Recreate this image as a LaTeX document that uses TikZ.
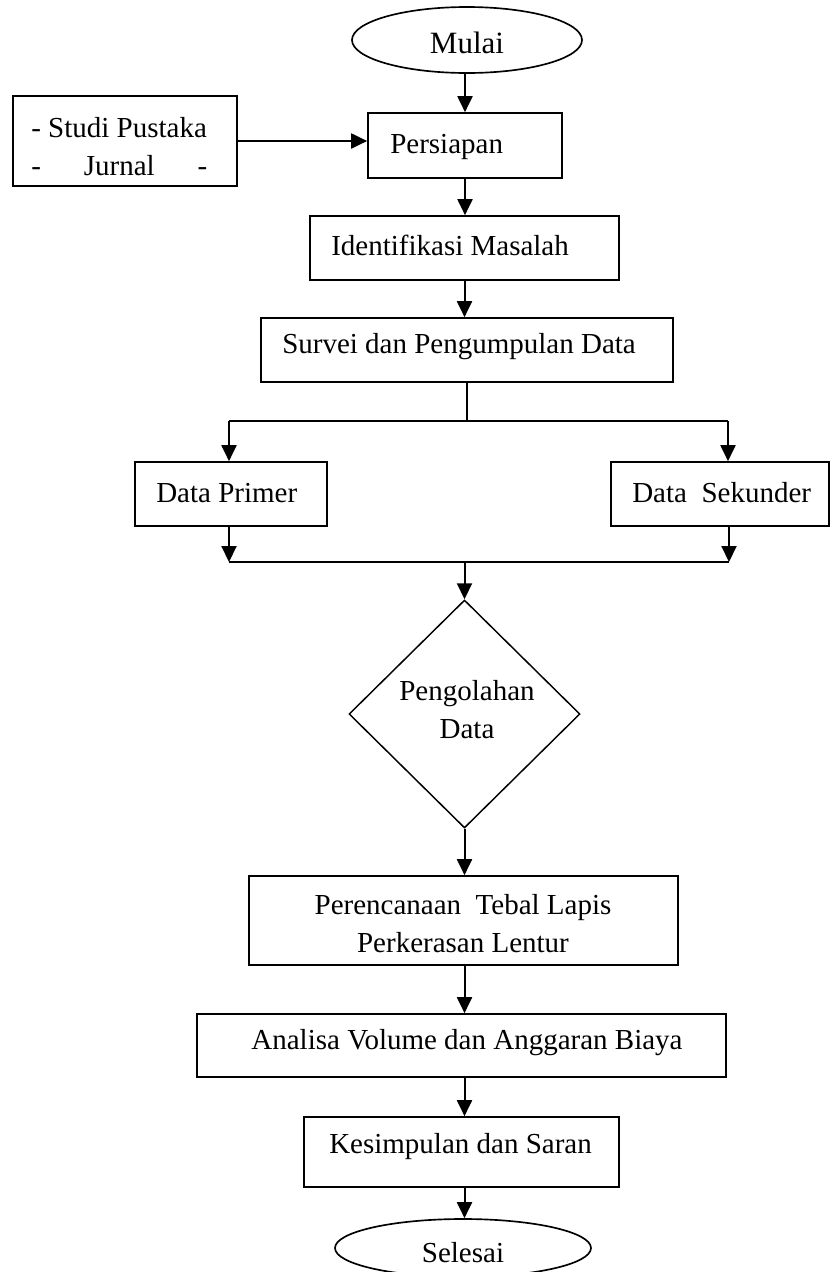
\documentclass[tikz,border=0pt]{standalone}
\usepackage{fontspec}
\setmainfont{Liberation Serif}
\usetikzlibrary{shapes.geometric,arrows.meta}
\begin{document}
\begin{tikzpicture}[x=0.75pt,y=-0.75pt,
  every node/.style={font=\fontsize{21.75}{28.5}\selectfont, inner sep=0pt},
  box/.style={draw, line width=1.25pt, rectangle},
  oval/.style={draw, line width=1.25pt, ellipse},
  decision/.style={draw, line width=1.1pt, diamond},
  conn/.style={line width=1.5pt, -{Triangle[width=11.25pt,length=12pt]}},
  plain/.style={line width=1.5pt},
  lbl/.style={anchor=west},
  clbl/.style={anchor=center, align=center}
]
\useasboundingbox (0,0) rectangle (830,1272);
\clip (0,0) rectangle (830,1272);
\fill[white] (0,0) rectangle (830,1272);

% shapes
\node[oval, minimum width=230*0.75pt, minimum height=66*0.75pt] (mulai) at (467,40) {};
\node[box, minimum width=224*0.75pt, minimum height=90*0.75pt] (studi) at (125,141) {};
\node[box, minimum width=194*0.75pt, minimum height=65*0.75pt] (persiapan) at (465,145.5) {};
\node[box, minimum width=309*0.75pt, minimum height=64*0.75pt] (ident) at (464.5,248) {};
\node[box, minimum width=412*0.75pt, minimum height=64*0.75pt] (survei) at (467,350) {};
\node[box, minimum width=192*0.75pt, minimum height=64*0.75pt] (primer) at (231,494) {};
\node[box, minimum width=218*0.75pt, minimum height=64*0.75pt] (sekunder) at (720,494) {};
\node[decision, minimum width=231*0.75pt, minimum height=228*0.75pt] (olah) at (464.5,714) {};
\node[box, minimum width=429*0.75pt, minimum height=89*0.75pt] (rencana) at (463.5,920.5) {};
\node[box, minimum width=529*0.75pt, minimum height=63*0.75pt] (analisa) at (461.5,1045.5) {};
\node[box, minimum width=315*0.75pt, minimum height=70*0.75pt] (simpul) at (461.5,1152) {};
\node[oval, minimum width=256*0.75pt, minimum height=58*0.75pt] (selesai) at (463,1248) {};

% texts
\node[clbl, font=\fontsize{23.25}{28.5}\selectfont] (tmulai) at (467,43) {Mulai};
\node[lbl] (tstudi1) at (31,128) {- Studi Pustaka};
\node[lbl] (tstudi2) at (31,166) {\makebox[132pt][s]{-\ \ Jurnal\ \ -}};
\node[lbl] (tpersiapan) at (390,147) {Persiapan};
\node[lbl] (tident) at (331,245) {Identifikasi Masalah};
\node[lbl] (tsurvei) at (282,347) {Survei dan Pengumpulan Data};
\node[lbl] (tprimer) at (156,493) {Data Primer};
\node[lbl] (tsekunder) at (632,493) {Data\ \ Sekunder};
\node[clbl] (tolah) at (467,710) {Pengolahan\\Data};
\node[clbl] (trencana) at (463,924) {Perencanaan\ \ Tebal Lapis\\Perkerasan Lentur};
\node[clbl] (tanalisa) at (467,1043) {Analisa Volume dan Anggaran Biaya};
\node[lbl] (tsimpul) at (329,1147) {Kesimpulan dan Saran};
\node[clbl] (tselesai) at (463,1253) {Selesai};

% junction points
\coordinate (sl) at (229,421);
\coordinate (sr) at (728,421);
\coordinate (jl) at (229,562);
\coordinate (jr) at (729,562);

% connectors
\draw[conn] (persiapan.north |- mulai.south) -- (persiapan.north);
\draw[conn] (studi.east) -- (studi.east -| persiapan.west);
\draw[conn] (persiapan.south) -- (persiapan.south |- ident.north);
\draw[conn] (ident.south) -- (ident.south |- survei.north);
\draw[plain] (survei.south) -- (survei.south |- sl);
\draw[plain] (sl) -- (sr);
\draw[conn] (sl) -- (sl |- primer.north);
\draw[conn] (sr) -- (sr |- sekunder.north);
\draw[conn] (jl |- primer.south) -- (jl);
\draw[conn] (jr |- sekunder.south) -- (jr);
\draw[plain] (jl) -- (jr);
\draw[conn] (olah.north |- jl) -- (olah.north);
\draw[conn] (olah.south) -- (olah.south |- rencana.north);
\draw[conn] (olah.south |- rencana.south) -- (olah.south |- analisa.north);
\draw[conn] (olah.south |- analisa.south) -- (olah.south |- simpul.north);
\draw[conn] (olah.south |- simpul.south) -- (olah.south |- selesai.north);
\end{tikzpicture}
\end{document}
